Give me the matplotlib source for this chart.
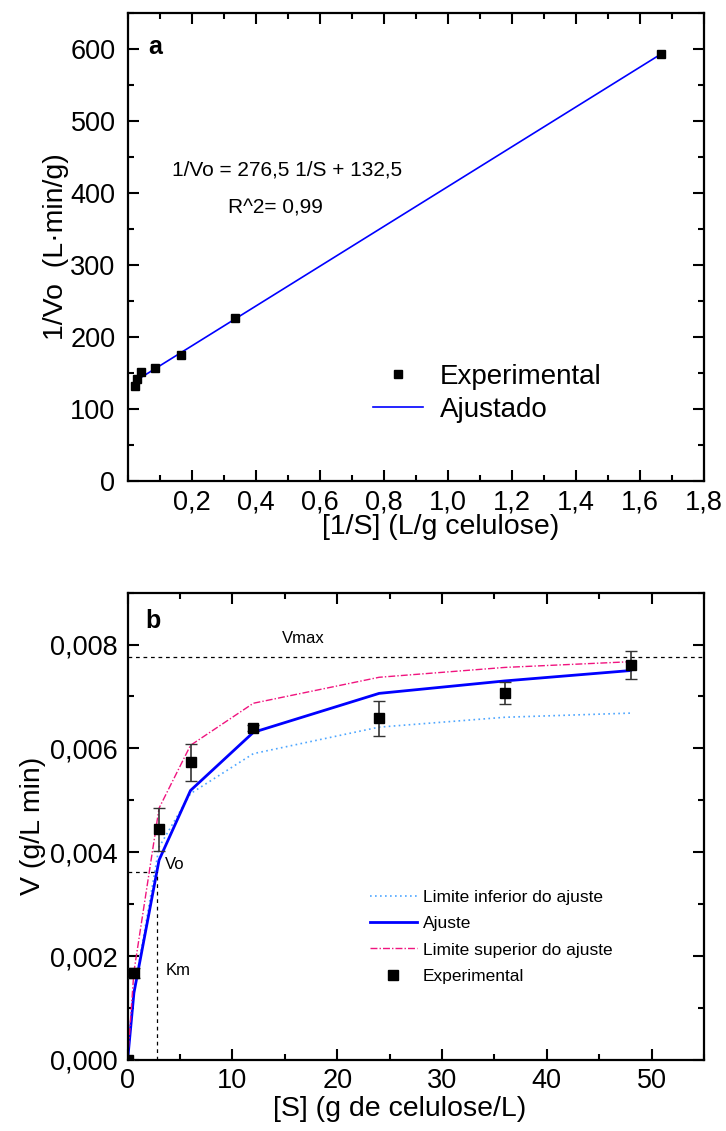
import matplotlib
matplotlib.use("Agg")
import matplotlib.pyplot as plt
from matplotlib.ticker import MultipleLocator, FixedLocator, FuncFormatter

plt.rcParams['font.family'] = ['Liberation Sans', 'DejaVu Sans']

# ---------- Panel a data (Lineweaver-Burk) ----------
inv_S = [0.0208, 0.0278, 0.0417, 0.0833, 0.1667, 0.3333, 1.6667]
inv_V = [132, 141, 152, 157, 175, 226, 593]
fit_inv_S = [0.0208, 1.6667]
fit_inv_V = [138.3, 593.3]

# ---------- Panel b data (Michaelis-Menten) ----------
S_exp = [0, 0.6, 3, 6, 12, 24, 36, 48]
V_exp = [0.0, 0.00167, 0.00444, 0.00573, 0.00640, 0.00658, 0.00706, 0.00760]
V_err = [0.0, 0.00010, 0.00042, 0.00036, 0.00006, 0.00034, 0.00021, 0.00027]

S_fit = [0, 0.6, 3, 6, 12, 24, 36, 48]
V_fit = [0.0, 0.00129, 0.00385, 0.00519, 0.00631, 0.00706, 0.00730, 0.00750]
V_low = [0.0, 0.00130, 0.00410, 0.00513, 0.00590, 0.00641, 0.00660, 0.00668]
V_up = [0.0, 0.00170, 0.00485, 0.00606, 0.00687, 0.00737, 0.00756, 0.00767]

Vmax = 0.00777
Vo_half = 0.00362
Km = 2.78


def comma(fmt):
    return FuncFormatter(lambda v, p: (fmt % v).replace('.', ','))


fig = plt.figure(figsize=(7.26, 11.31), dpi=100)

TICK_FS = 19.5
LABEL_FS = 20.5

# ================= Panel a =================
ax1 = fig.add_axes([0.1763, 0.5747, 0.7934, 0.4138])
ax1.plot(inv_S, inv_V, 's', color='black', ms=6, label='Experimental', zorder=3)
ax1.plot(fit_inv_S, fit_inv_V, '-', color='#0000FF', lw=1.2, label='Ajustado')
ax1.set_xlim(0, 1.8)
ax1.set_ylim(0, 650)
ax1.xaxis.set_major_locator(FixedLocator([0.2, 0.4, 0.6, 0.8, 1.0, 1.2, 1.4, 1.6, 1.8]))
ax1.xaxis.set_minor_locator(FixedLocator([0.0, 0.1, 0.3, 0.5, 0.7, 0.9, 1.1, 1.3, 1.5, 1.7]))
ax1.yaxis.set_major_locator(MultipleLocator(100))
ax1.yaxis.set_minor_locator(MultipleLocator(50))
ax1.xaxis.set_major_formatter(comma('%.1f'))
ax1.yaxis.set_major_formatter(comma('%d'))
ax1.set_xlabel('[1/S] (L/g celulose)', fontsize=LABEL_FS, labelpad=-1)
ax1.xaxis.label.set_x(0.543)
ax1.set_ylabel('1/Vo  (L\u00b7min/g)', fontsize=LABEL_FS, labelpad=1)
ax1.text(0.1375, 432, '1/Vo = 276,5 1/S + 132,5', fontsize=15, va='center', ha='left')
ax1.text(0.3125, 379, 'R^2= 0,99', fontsize=15, va='center', ha='left')
ax1.text(0.0625, 603, 'a', fontsize=18, fontweight='bold', va='center', ha='left')
leg1 = ax1.legend(loc='upper left', bbox_to_anchor=(0.425, 0.25), frameon=False,
                  fontsize=20, handlelength=1.8, handletextpad=0.6,
                  labelspacing=0.25, borderpad=0, borderaxespad=0)

# ================= Panel b =================
ax2 = fig.add_axes([0.1758, 0.0628, 0.7939, 0.4132])
ax2.plot(S_fit, V_low, linestyle=(0, (1, 2)), color='#4DA6FF', lw=1.2,
         label='Limite inferior do ajuste')
ax2.plot(S_fit, V_fit, '-', color='#0000FF', lw=2, label='Ajuste')
ax2.plot(S_fit, V_up, linestyle=(0, (5, 1.5, 1, 1.5)), color='#F0147F', lw=1,
         label='Limite superior do ajuste')
ax2.errorbar(S_exp, V_exp, yerr=V_err, fmt='none', ecolor='#333333',
             capsize=4, elinewidth=1.2, capthick=1, zorder=4)
ax2.plot(S_exp, V_exp, 's', color='black', ms=7.5, label='Experimental', zorder=5)
ax2.axhline(Vmax, color='black', lw=0.9, linestyle=(0, (3, 3)))
ax2.plot([0, Km], [Vo_half, Vo_half], color='black', lw=0.9, linestyle=(0, (3, 3)))
ax2.plot([Km, Km], [0, Vo_half], color='black', lw=0.9, linestyle=(0, (3, 3)))
ax2.text(16.8, 0.00812, 'Vmax', fontsize=12, ha='center', va='center')
ax2.text(3.6, 0.00377, 'Vo', fontsize=12, ha='left', va='center')
ax2.text(3.65, 0.00173, 'Km', fontsize=12, ha='left', va='center')
ax2.text(1.7, 0.00846, 'b', fontsize=18, fontweight='bold', ha='left', va='center')
ax2.set_xlim(0, 55)
ax2.set_ylim(0, 0.009)
ax2.xaxis.set_major_locator(MultipleLocator(10))
ax2.xaxis.set_minor_locator(MultipleLocator(5))
ax2.yaxis.set_major_locator(FixedLocator([0, 0.002, 0.004, 0.006, 0.008]))
ax2.yaxis.set_minor_locator(FixedLocator([0.001, 0.003, 0.005, 0.007, 0.009]))
ax2.xaxis.set_major_formatter(comma('%d'))
ax2.yaxis.set_major_formatter(comma('%.3f'))
ax2.set_xlabel('[S] (g de celulose/L)', fontsize=LABEL_FS, labelpad=1.5)
ax2.xaxis.label.set_x(0.4726)
ax2.set_ylabel('V (g/L min)', fontsize=LABEL_FS, labelpad=3)
leg2 = ax2.legend(loc='upper left', bbox_to_anchor=(0.42, 0.364), frameon=False,
                  fontsize=12.5, handlelength=2.7, handletextpad=0.35,
                  labelspacing=0.64, borderpad=0, borderaxespad=0)

for ax in (ax1, ax2):
    for s in ax.spines.values():
        s.set_linewidth(1.6)
    ax.tick_params(which='both', direction='in', top=True, right=True, width=1.5)
    ax.tick_params(which='major', length=8, labelsize=TICK_FS)
    ax.tick_params(axis='x', which='major', pad=6)
    ax.tick_params(which='minor', length=4)
ax1.tick_params(axis='y', which='major', pad=9)
ax2.tick_params(axis='y', which='major', pad=7)

fig.savefig('out.png', dpi=100)
